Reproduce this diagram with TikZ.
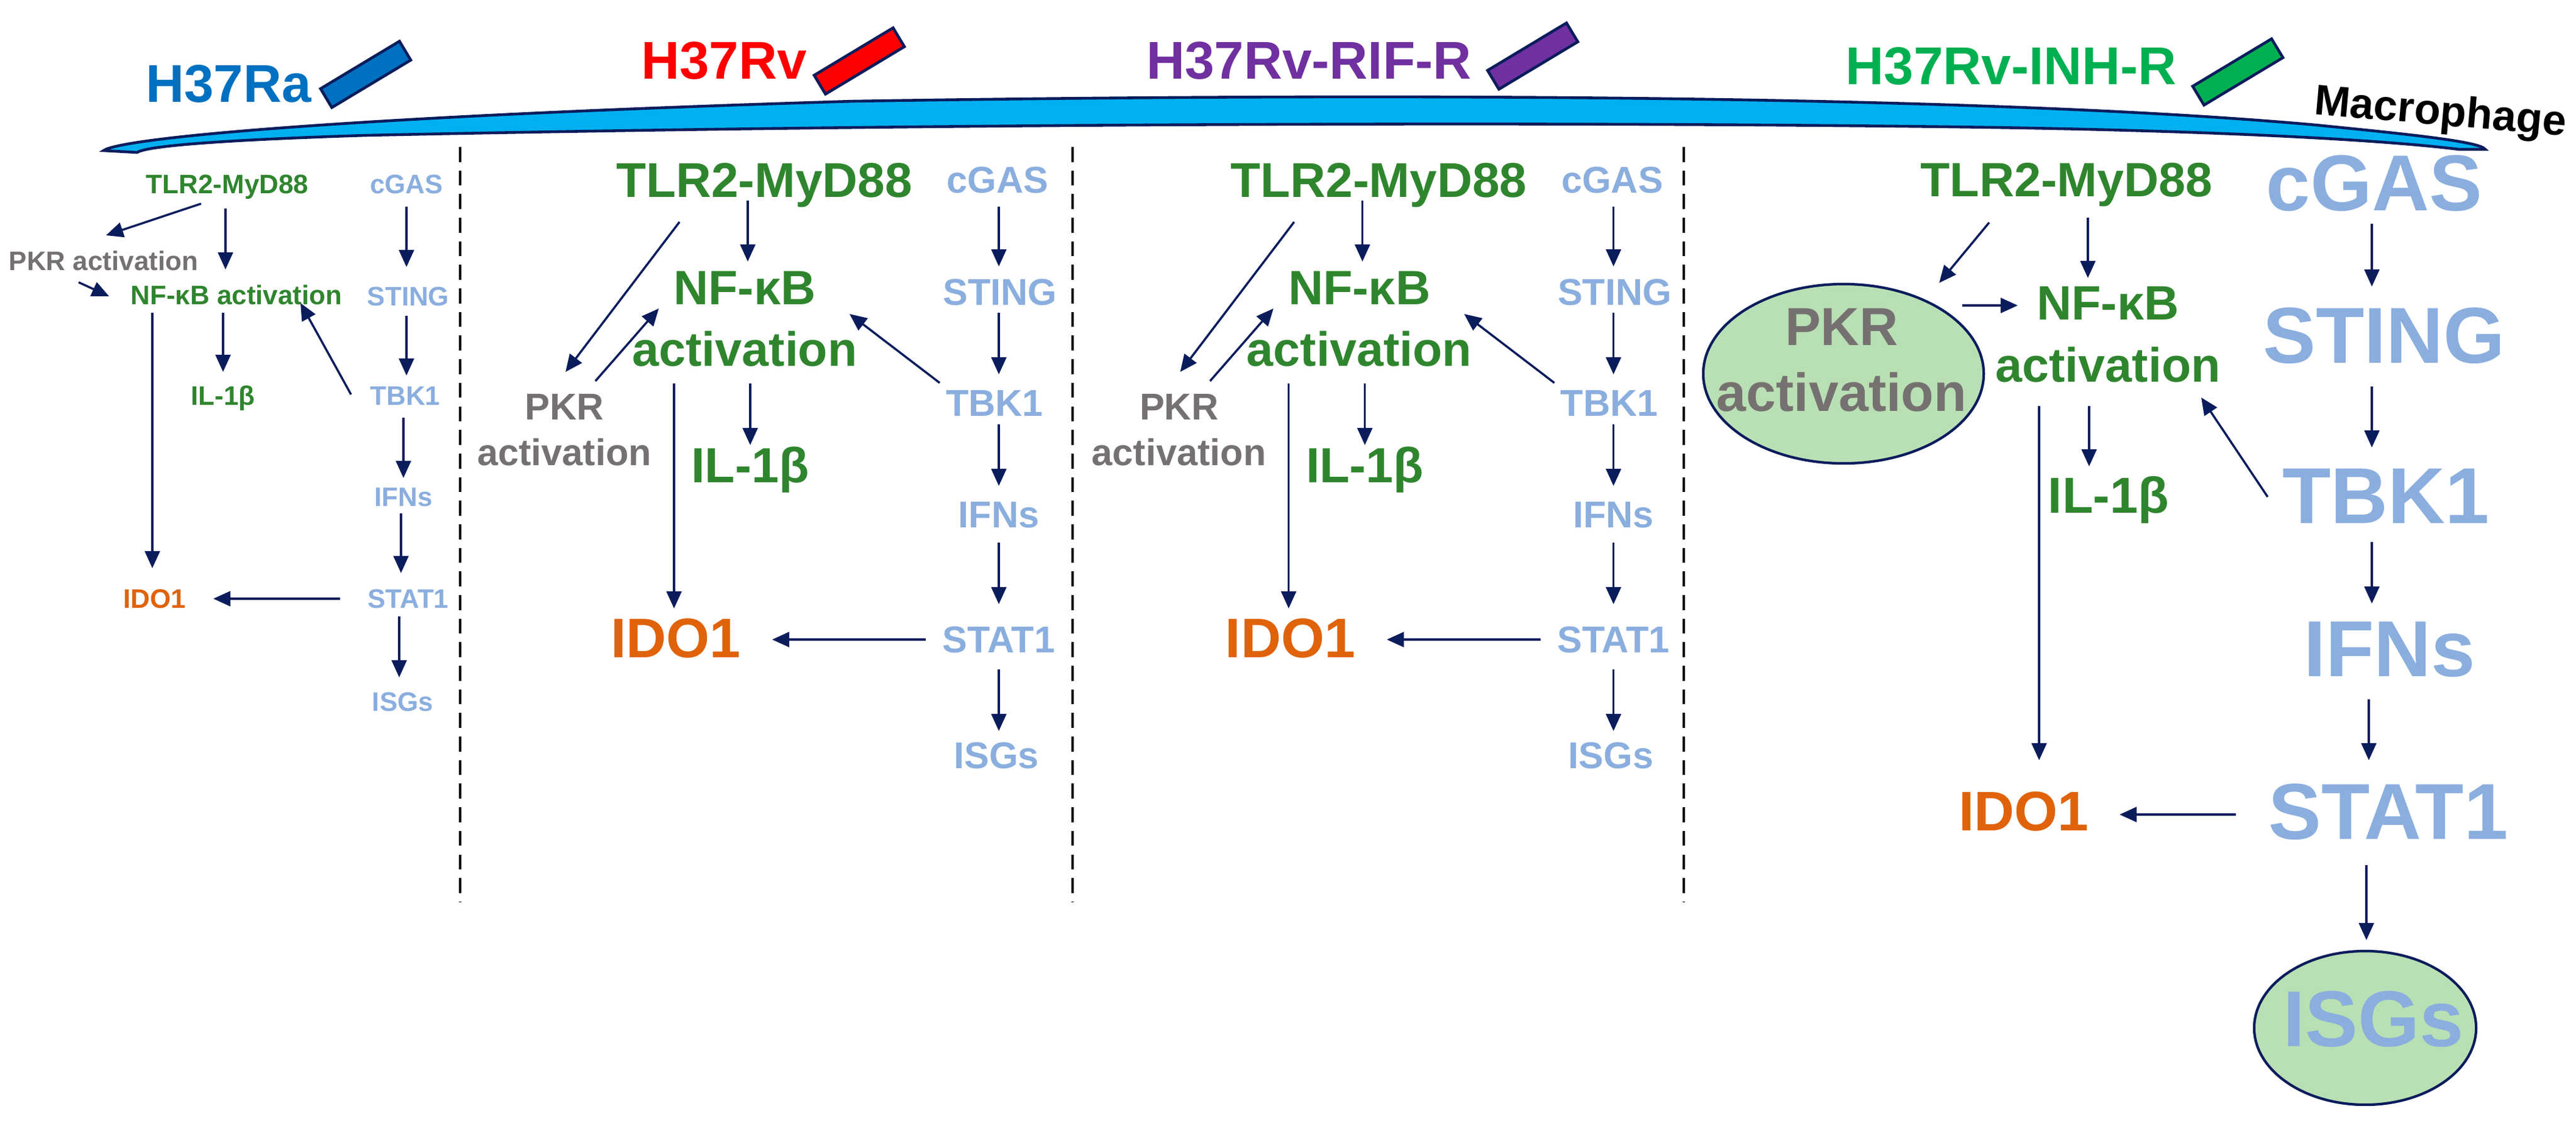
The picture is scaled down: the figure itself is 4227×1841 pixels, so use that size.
\documentclass[tikz,border=0pt]{standalone}
\usepackage{fontspec}
\setmainfont{Liberation Sans}
\usetikzlibrary{arrows.meta,shapes.geometric}
\definecolor{grn}{RGB}{47,133,46}
\definecolor{lbl}{RGB}{138,174,222}
\definecolor{gry}{RGB}{118,113,113}
\definecolor{org}{RGB}{224,98,10}
\definecolor{navy}{RGB}{10,28,92}
\definecolor{memb}{RGB}{0,176,240}
\definecolor{ellf}{RGB}{185,224,180}
\definecolor{raC}{RGB}{0,112,192}
\definecolor{rvC}{RGB}{255,0,0}
\definecolor{rifC}{RGB}{112,48,160}
\definecolor{inhC}{RGB}{0,176,80}
\newcommand\MidPanel[1]{%
  \node[lb={22.8pt},grn] (t#1) at (1254,295) {TLR2-MyD88};
  \node[lb={17.4pt},lbl] (c#1) at (1637,295) {cGAS};
  \node[two={22.5pt}{28.7pt},grn] (n#1) at (1222,523) {NF-κB\\activation};
  \node[two={17.4pt}{21.3pt},gry] (p#1) at (926,705) {PKR\\activation};
  \node[lb={23pt},grn] (i#1) at (1231,763) {IL-1β};
  \node[lb={26pt},org] (d#1) at (1109,1046) {IDO1};
  \node[lb={17.4pt},lbl] (s#1) at (1641,479) {STING};
  \node[lb={17.4pt},lbl] (k#1) at (1632,661) {TBK1};
  \node[lb={17.4pt},lbl] (f#1) at (1639,844) {IFNs};
  \node[lb={17.4pt},lbl] (st#1) at (1639,1049) {STAT1};
  \node[lb={17.4pt},lbl] (g#1) at (1635,1239) {ISGs};
  \draw[ar] (1227,329) -- (1227,429);
  \draw[ar] (1115,364) -- (928,610);
  \draw[ar] (977,625) -- (1081,506);
  \draw[ar] (1231,629) -- (1231,730);
  \draw[ar] (1106,629) -- (1106,998);
  \draw[ar] (1542,628) -- (1394,515);
  \draw[ar] (1519,1049) -- (1267,1049);
  \draw[ar] (1639,339) -- (1639,437);
  \draw[ar] (1639,513) -- (1639,614);
  \draw[ar] (1639,696) -- (1639,797);
  \draw[ar] (1639,890) -- (1639,991);
  \draw[ar] (1639,1098) -- (1639,1199);
}
\begin{document}
\begin{tikzpicture}[x=0.01cm,y=-0.01cm,
  ar/.style={draw=navy,line width=1pt,-{Triangle[length=8pt,width=7pt]}},
  lb/.style={inner sep=0pt,node font=\bfseries\fontsize{#1}{#1}\selectfont,text height=.716em,text depth=0pt},
  two/.style 2 args={inner sep=0pt,align=center,node font=\bfseries\fontsize{#1}{#2}\selectfont},
  bac/.style={draw=navy,line width=1.3pt,fill=#1,minimum width=1.51cm,minimum height=0.36cm,inner sep=0pt,rotate=31},
  sep/.style={draw=black,line width=1.1pt,dash pattern=on 7pt off 4pt},
  ell/.style={ellipse,draw=navy,line width=1.2pt,fill=ellf,inner sep=0pt}
]
\useasboundingbox (0,0) rectangle (4227,1841);
% membrane
\path[draw=navy,line width=1.3pt,fill=memb]
  (170,247) .. controls (200,225) and (600,190) .. (1400,166)
  .. controls (2400,150) and (3300,160) .. (3800,205)
  .. controls (3950,220) and (4070,232) .. (4078,245)
  -- (4035,245) .. controls (3900,228) and (3600,213) .. (3200,208)
  .. controls (2400,198) and (1400,205) .. (600,222)
  .. controls (350,230) and (240,240) .. (225,250) -- cycle;
% titles
\node[anchor=base,inner sep=0pt,font=\bfseries\fontsize{24.8pt}{24.8pt}\selectfont,raC] (tra) at (375,167) {H37Ra};
\node[bac=raC] (bra) at (600,122) {};
\node[anchor=base,inner sep=0pt,font=\bfseries\fontsize{24.8pt}{24.8pt}\selectfont,rvC] (trv) at (1188,129) {H37Rv};
\node[bac=rvC] (brv) at (1410,100) {};
\node[anchor=base,inner sep=0pt,font=\bfseries\fontsize{24.8pt}{24.8pt}\selectfont,rifC] (trif) at (2148,129) {H37Rv-RIF-R};
\node[bac=rifC] (brif) at (2515,92) {};
\node[anchor=base,inner sep=0pt,font=\bfseries\fontsize{24.8pt}{24.8pt}\selectfont,inhC] (tinh) at (3300,138) {H37Rv-INH-R};
\node[bac=inhC] (binh) at (3672,118) {};
\node[lb={20pt},black,rotate=-5] (mac) at (4005,180) {Macrophage};
% separators
\draw[sep] (755,241) -- (755,1480);
\draw[sep] (1760,241) -- (1760,1480);
\draw[sep] (2763,241) -- (2763,1480);
% panel 1
\node[lb={12.5pt},grn] (t1) at (373,302) {TLR2-MyD88};
\node[lb={12.5pt},lbl] (c1) at (667,302) {cGAS};
\node[lb={12.5pt},gry] (p1) at (170,428) {PKR activation};
\node[lb={12.5pt},grn] (n1) at (388,484) {NF-κB activation};
\node[lb={12.5pt},lbl] (s1) at (670,486) {STING};
\node[lb={12.5pt},grn] (i1) at (366,649) {IL-1β};
\node[lb={12.5pt},lbl] (k1) at (665,649) {TBK1};
\node[lb={12.5pt},lbl] (f1) at (662,815) {IFNs};
\node[lb={12.5pt},org] (d1) at (254,982) {IDO1};
\node[lb={12.5pt},lbl] (st1) at (670,982) {STAT1};
\node[lb={12.5pt},lbl] (g1) at (661,1151) {ISGs};
\draw[ar] (330,334) -- (174,386);
\draw[ar] (370,342) -- (370,442);
\draw[ar] (129,463) -- (179,486);
\draw[ar] (366,513) -- (366,610);
\draw[ar] (250,513) -- (250,932);
\draw[ar] (576,647) -- (493,497);
\draw[ar] (667,339) -- (667,438);
\draw[ar] (667,518) -- (667,616);
\draw[ar] (662,685) -- (662,784);
\draw[ar] (658,842) -- (658,940);
\draw[ar] (558,982) -- (350,982);
\draw[ar] (655,1011) -- (655,1111);
% panels 2 and 3
\MidPanel{2}
\begin{scope}[xshift=10.08cm]
\MidPanel{3}
\end{scope}
% panel 4
\node[ell,minimum width=4.6cm,minimum height=2.94cm] (pe4) at (3025,613) {};
\node[two={25pt}{30.7pt},gry] (p4) at (3022,591) {PKR\\activation};
\node[ell,minimum width=3.64cm,minimum height=2.52cm] (ge4) at (3881,1686) {};
\node[lb={37pt},lbl] (g4) at (3895,1670) {ISGs};
\node[lb={22.5pt},grn] (t4) at (3391,294) {TLR2-MyD88};
\node[lb={37pt},lbl] (c4) at (3896,299) {cGAS};
\node[two={22.5pt}{29pt},grn] (n4) at (3459,549) {NF-κB\\activation};
\node[lb={23.6pt},grn] (i4) at (3460,812) {IL-1β};
\node[lb={26pt},org] (d4) at (3321,1330) {IDO1};
\node[lb={37pt},lbl] (s4) at (3912,549) {STING};
\node[lb={37pt},lbl] (k4) at (3915,812) {TBK1};
\node[lb={37pt},lbl] (f4) at (3921,1063) {IFNs};
\node[lb={37pt},lbl] (st4) at (3919,1330) {STAT1};
\draw[ar] (3264,365) -- (3182,464);
\draw[ar] (3426,357) -- (3426,456);
\draw[ar] (3220,501) -- (3311,501);
\draw[ar] (3428,666) -- (3428,765);
\draw[ar] (3346,666) -- (3346,1247);
\draw[ar] (3721,815) -- (3612,652);
\draw[ar] (3892,367) -- (3892,470);
\draw[ar] (3892,634) -- (3892,734);
\draw[ar] (3892,889) -- (3892,990);
\draw[ar] (3887,1147) -- (3887,1247);
\draw[ar] (3669,1336) -- (3478,1336);
\draw[ar] (3883,1419) -- (3883,1542);
\end{tikzpicture}
\end{document}
